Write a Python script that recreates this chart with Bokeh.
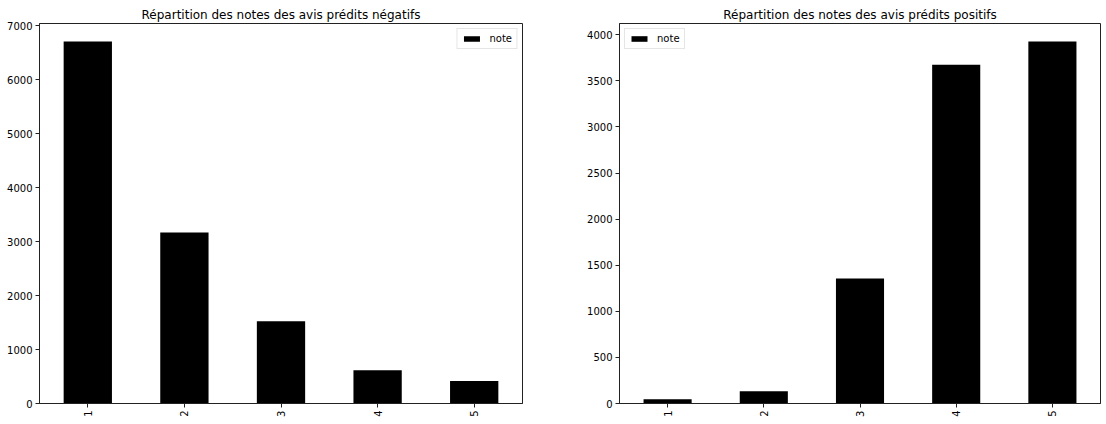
import math
from bokeh.plotting import figure
from bokeh.layouts import row
from bokeh.models import Range1d, FactorRange, FixedTicker, ColumnDataSource
from bokeh.embed import file_html
from bokeh.resources import INLINE

notes = ["1", "2", "3", "4", "5"]
neg_counts = [6710, 3170, 1525, 617, 419]
pos_counts = [47, 133, 1357, 3676, 3926]
neg_ticks = [0, 1000, 2000, 3000, 4000, 5000, 6000, 7000]
pos_ticks = [0, 500, 1000, 1500, 2000, 2500, 3000, 3500, 4000]
series_name = "note"
titles = ["Répartition des notes des avis prédits négatifs",
          "Répartition des notes des avis prédits positifs"]

FONT = "DejaVu Sans"


def make(counts, ticks, title, legend_loc, bl, br, fw):
    src = ColumnDataSource(dict(x=notes, top=counts))
    p = figure(x_range=FactorRange(*notes, range_padding=0),
               y_range=Range1d(0, max(counts) * 1.05),
               frame_width=fw, frame_height=380,
               min_border_left=bl, min_border_right=br,
               min_border_top=23, min_border_bottom=21,
               output_backend="svg", toolbar_location=None,
               background_fill_color="white", border_fill_color="white")
    p.vbar(x="x", top="top", width=0.5, source=src, fill_color="black",
           line_color=None, legend_label=series_name)
    p.title.text = title
    p.title.align = "center"
    p.title.text_font = FONT
    p.title.text_font_size = "12px"
    p.title.text_font_style = "normal"
    p.title.text_color = "black"
    p.title.standoff = 4
    p.xgrid.visible = False
    p.ygrid.visible = False
    p.outline_line_color = "#222222"
    p.outline_line_width = 1
    p.yaxis.ticker = FixedTicker(ticks=ticks)
    for ax in (p.xaxis[0], p.yaxis[0]):
        ax.major_label_text_font = FONT
        ax.major_label_text_font_size = "10px"
        ax.major_label_text_color = "black"
        ax.axis_line_color = "#222222"
        ax.major_tick_line_color = "#222222"
        ax.major_tick_out = 4
        ax.major_tick_in = 0
        ax.minor_tick_line_color = None
        ax.major_label_standoff = 3
    p.xaxis.major_label_orientation = math.pi / 2
    leg = p.legend[0]
    leg.location = legend_loc
    leg.label_text_font = FONT
    leg.label_text_font_size = "10px"
    leg.label_text_color = "black"
    leg.glyph_width = 20
    leg.glyph_height = 7
    leg.label_height = 10
    leg.label_standoff = 8
    leg.padding = 4
    leg.margin = 5
    leg.border_line_color = "#cccccc"
    leg.background_fill_alpha = 0.8
    return p


p1 = make(neg_counts, neg_ticks, titles[0], "top_right", 39, 48, 483)
p2 = make(pos_counts, pos_ticks, titles[1], "top_left", 49, 6, 481)
layout = row(p1, p2)

open("out.html", "w").write(file_html(layout, INLINE))
